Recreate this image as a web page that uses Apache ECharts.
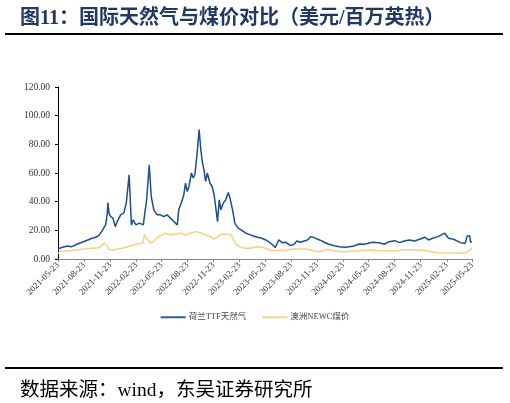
<!DOCTYPE html>
<html>
<head>
<meta charset="utf-8">
<script src="https://cdn.jsdelivr.net/npm/echarts@6/dist/echarts.min.js"></script>
<style>html,body{margin:0;padding:0;background:#fff;}#c{width:510px;height:403px;}</style>
</head>
<body>
<div id="c"></div>
<script>
var titleText = '图11：国际天然气与煤价对比（美元/百万英热）';
var sourceText = '数据来源：wind，东吴证券研究所';
var seriesNames = ['荷兰TTF天然气', '澳洲NEWC煤价'];
var startDate = '2021-05-23';
var endDate = '2025-05-23';
var yTicks = [0, 20, 40, 60, 80, 100, 120];

var ttf = [
['2021-05-23',7.2],['2021-06-06',8.0],['2021-06-25',9.1],['2021-07-11',8.6],['2021-07-29',10.3],
['2021-08-16',11.7],['2021-09-03',13.1],['2021-09-20',14.5],['2021-10-03',15.2],['2021-10-14',16.3],
['2021-10-26',19.8],['2021-11-07',23.8],['2021-11-13',32.0],['2021-11-15',39.4],['2021-11-19',32.0],
['2021-11-25',29.6],['2021-12-03',28.5],['2021-12-11',22.6],['2021-12-18',26.1],['2021-12-30',30.8],
['2022-01-10',32.0],['2022-01-19',39.0],['2022-01-29',58.8],['2022-02-02',41.3],['2022-02-06',23.8],
['2022-02-12',27.3],['2022-02-22',23.8],['2022-03-06',25.0],['2022-03-20',23.8],['2022-03-27',22.6],
['2022-04-01',41.8],['2022-04-10',65.8],['2022-04-17',43.6],['2022-04-26',34.3],['2022-05-08',30.8],
['2022-05-20',30.8],['2022-05-26',32.0],['2022-05-31',29.6],['2022-06-12',30.8],['2022-06-24',28.5],
['2022-07-06',26.1],['2022-07-18',23.8],['2022-07-23',34.3],['2022-08-01',39.0],['2022-08-10',44.8],
['2022-08-16',53.0],['2022-08-22',47.1],['2022-08-28',50.6],['2022-09-06',60.0],['2022-09-12',56.5],
['2022-09-18',58.8],['2022-09-25',71.6],['2022-10-03',90.3],['2022-10-09',76.3],['2022-10-15',67.0],
['2022-10-20',62.3],['2022-10-26',54.1],['2022-11-01',60.0],['2022-11-10',53.0],['2022-11-18',50.6],
['2022-11-25',44.8],['2022-12-01',35.5],['2022-12-07',26.0],['2022-12-13',41.3],['2022-12-19',34.3],
['2022-12-27',39.0],['2023-01-05',41.3],['2023-01-14',46.4],['2023-01-20',42.5],['2023-01-29',34.3],
['2023-02-06',25.0],['2023-02-18',21.5],['2023-02-28',20.3],['2023-03-17',18.0],['2023-04-02',16.8],
['2023-04-26',15.2],['2023-05-08',14.8],['2023-05-26',13.3],['2023-06-13',11.0],['2023-06-29',8.0],
['2023-07-06',8.6],['2023-07-11',13.3],['2023-07-23',11.4],['2023-08-04',11.7],['2023-08-21',9.3],
['2023-09-03',10.3],['2023-09-13',12.6],['2023-09-25',11.7],['2023-10-02',12.1],['2023-10-20',13.3],
['2023-11-01',15.6],['2023-11-13',14.9],['2023-12-02',13.3],['2023-12-19',11.7],['2024-01-04',10.3],
['2024-01-23',9.3],['2024-02-10',8.6],['2024-02-29',8.2],['2024-03-16',8.6],['2024-04-01',9.1],
['2024-04-19',10.5],['2024-05-08',10.3],['2024-05-29',11.4],['2024-06-07',11.7],['2024-06-29',11.4],
['2024-07-17',10.3],['2024-08-04',12.1],['2024-08-23',12.8],['2024-09-10',11.4],['2024-09-26',12.6],
['2024-10-14',13.3],['2024-11-01',12.6],['2024-11-19',13.8],['2024-12-08',15.2],['2024-12-20',13.3],
['2025-01-04',14.5],['2025-01-23',15.6],['2025-02-04',16.8],['2025-02-16',18.0],['2025-03-01',14.5],
['2025-03-19',13.8],['2025-03-26',12.8],['2025-04-13',11.4],['2025-04-29',11.0],['2025-05-06',16.1],
['2025-05-15',16.1],['2025-05-18',11.7],['2025-05-23',12.1]
];

var newc = [
['2021-05-23',4.0],['2021-06-06',5.6],['2021-06-30',5.8],['2021-07-23',6.3],['2021-08-22',7.0],
['2021-09-21',7.5],['2021-10-15',7.9],['2021-10-26',9.8],['2021-11-04',11.0],['2021-11-13',9.3],
['2021-11-18',6.8],['2021-12-01',6.3],['2021-12-18',7.0],['2022-01-05',7.5],['2022-01-23',8.6],
['2022-02-10',9.8],['2022-02-28',10.5],['2022-03-18',11.0],['2022-03-24',16.8],['2022-03-30',16.1],
['2022-04-05',13.3],['2022-04-14',11.4],['2022-04-26',12.1],['2022-05-08',15.2],['2022-05-25',16.8],
['2022-06-06',18.0],['2022-06-24',16.8],['2022-07-12',17.5],['2022-07-29',18.0],['2022-08-16',16.8],
['2022-09-03',18.0],['2022-09-20',19.1],['2022-10-09',18.4],['2022-10-26',16.8],['2022-11-13',15.6],
['2022-11-25',13.8],['2022-12-07',15.2],['2022-12-19',17.3],['2023-01-05',17.5],['2023-01-23',16.8],
['2023-02-02',13.3],['2023-02-10',10.5],['2023-02-22',8.6],['2023-03-12',7.5],['2023-04-02',7.5],
['2023-04-20',8.6],['2023-05-14',8.2],['2023-05-25',7.5],['2023-06-09',6.3],['2023-06-30',5.8],
['2023-07-18',6.3],['2023-08-04',5.8],['2023-08-22',6.8],['2023-09-09',7.0],['2023-09-27',7.0],
['2023-10-21',6.8],['2023-11-13',5.6],['2023-12-01',5.1],['2023-12-13',5.6],['2023-12-25',6.8],
['2024-01-11',6.3],['2024-01-29',5.6],['2024-02-16',5.1],['2024-03-11',5.3],['2024-04-02',5.6],
['2024-04-26',6.0],['2024-05-29',6.3],['2024-06-17',6.0],['2024-07-23',5.8],['2024-08-28',5.8],
['2024-09-21',6.5],['2024-10-15',6.5],['2024-11-18',6.3],['2024-12-13',5.8],['2025-01-05',4.9],
['2025-01-29',4.4],['2025-03-06',4.2],['2025-04-08',4.2],['2025-04-23',4.0],['2025-05-08',5.1],
['2025-05-23',7.7]
];

function pad(n){return (n<10?'0':'')+n;}
var categories = [];
(function(){
  var d = new Date(startDate + 'T00:00:00Z');
  var e = new Date(endDate + 'T00:00:00Z');
  while (d <= e) {
    categories.push(d.getUTCFullYear() + '-' + pad(d.getUTCMonth()+1) + '-' + pad(d.getUTCDate()));
    d.setUTCDate(d.getUTCDate() + 1);
  }
})();
function isTickDate(idx, val) {
  if (!val || val.slice(8) !== '23') return false;
  var m = +val.slice(5, 7);
  return m === 2 || m === 5 || m === 8 || m === 11;
}

var chart = echarts.init(document.getElementById('c'), null, {renderer: 'canvas'});
var serif = '"Liberation Serif", "Times New Roman", "Noto Sans CJK SC", serif';
chart.setOption({
  animation: false,
  backgroundColor: '#ffffff',
  title: [{
    text: titleText, left: 15, top: 4,
    textStyle: {fontSize: 20, fontWeight: 'bold', color: '#1f3864', fontFamily: '"Liberation Serif", "Noto Sans CJK SC", serif'}
  }, {
    text: sourceText, left: 15, top: 376,
    textStyle: {fontSize: 19.5, fontWeight: 'normal', color: '#000000', fontFamily: '"Liberation Serif", "Noto Sans CJK SC", serif'}
  }],
  graphic: [
    {type: 'line', shape: {x1: 5, y1: 34, x2: 503, y2: 34}, style: {stroke: '#000', lineWidth: 2}},
    {type: 'line', shape: {x1: 5, y1: 368, x2: 503, y2: 368}, style: {stroke: '#000', lineWidth: 2}}
  ],
  legend: {
    data: seriesNames, left: 'center', top: 308, itemWidth: 25, itemHeight: 2, itemGap: 16,
    icon: 'rect',
    textStyle: {fontSize: 8.5, color: '#444', fontFamily: serif, padding: [0, 0, 0, -2]}
  },
  grid: {left: 58, right: 38, top: 87, bottom: 144, containLabel: false},
  xAxis: {
    type: 'category', data: categories, boundaryGap: false,
    axisLine: {lineStyle: {color: '#888', width: 1}},
    axisTick: {show: true, interval: isTickDate, length: 3, lineStyle: {color: '#888'}},
    axisLabel: {interval: isTickDate, rotate: 45, fontSize: 9, color: '#333', fontFamily: serif, margin: 5},
    splitLine: {show: false}
  },
  yAxis: {
    type: 'value', min: yTicks[0], max: yTicks[yTicks.length-1], interval: 20,
    axisLine: {show: true, lineStyle: {color: '#000', width: 1}},
    axisTick: {show: true, length: 3, lineStyle: {color: '#000'}},
    axisLabel: {fontSize: 9.5, color: '#333', fontFamily: serif, margin: 8, formatter: function(v){return v.toFixed(2);}},
    splitLine: {show: false}
  },
  series: [
    {name: seriesNames[0], type: 'line', data: ttf, showSymbol: false, symbol: 'none', z: 3,
     lineStyle: {color: '#1f4e8a', width: 1.5}, itemStyle: {color: '#2d5f9a'}},
    {name: seriesNames[1], type: 'line', data: newc, showSymbol: false, symbol: 'none', z: 2,
     lineStyle: {color: '#f2d384', width: 1.5}, itemStyle: {color: '#f2d384'}}
  ]
});
</script>
</body>
</html>
